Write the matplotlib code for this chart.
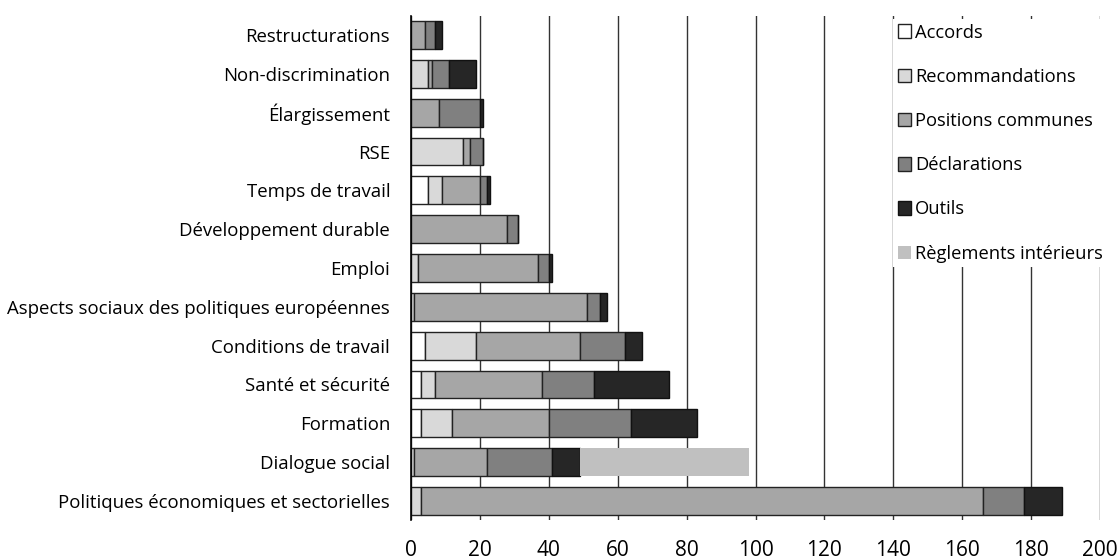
import matplotlib
matplotlib.use("Agg")
import matplotlib.pyplot as plt
import numpy as np

categories = ["Restructurations", "Non-discrimination", "Élargissement", "RSE",
              "Temps de travail", "Développement durable", "Emploi",
              "Aspects sociaux des politiques européennes", "Conditions de travail",
              "Santé et sécurité", "Formation", "Dialogue social",
              "Politiques économiques et sectorielles"]
accords =         [0, 0, 0, 0, 5, 0, 0, 0, 4, 3, 3, 0, 0]
recommandations = [0, 5, 0, 15, 4, 0, 2, 1, 15, 4, 9, 1, 3]
positions =       [4, 1, 8, 2, 11, 28, 35, 50, 30, 31, 28, 21, 163]
declarations =    [3, 5, 12, 4, 2, 3, 3, 4, 13, 15, 24, 19, 12]
outils =          [2, 8, 1, 0, 1, 0, 1, 2, 5, 22, 19, 8, 11]
reglements =      [0, 0, 0, 0, 0, 0, 0, 0, 0, 0, 0, 49, 0]

series = [("Accords", accords, "#ffffff", "#222222"),
          ("Recommandations", recommandations, "#d9d9d9", "#222222"),
          ("Positions communes", positions, "#a6a6a6", "#222222"),
          ("Déclarations", declarations, "#808080", "#222222"),
          ("Outils", outils, "#262626", "#111111"),
          ("Règlements intérieurs", reglements, "#c0c0c0", "none")]

plt.rcParams['font.family'] = ['Open Sans', 'DejaVu Sans']

fig = plt.figure(figsize=(11.2, 5.59), dpi=100)
ax = fig.add_axes([411/1120, 1 - 520.4/559, (1100 - 411)/1120, (520.4 - 15.6)/559])

y = np.arange(len(categories))
left = np.zeros(len(categories))
for name, vals, fc, ec in series:
    v = np.array(vals, dtype=float)
    ax.barh(y, v, left=left, height=0.72, color=fc, edgecolor=ec,
            linewidth=1.0 if ec != "none" else 0, label=name, zorder=3)
    left += v

ax.set_ylim(len(categories) - 0.5, -0.5)
ax.set_xlim(0, 200)
ax.set_xticks(np.arange(0, 201, 20))
ax.set_yticks(y)
ax.set_yticklabels(categories)
ax.tick_params(axis='y', length=0, pad=15, labelsize=13.4)
ax.tick_params(axis='x', length=0, pad=14, labelsize=15)
for s in ["top", "right", "bottom"]:
    ax.spines[s].set_visible(False)
ax.spines["left"].set_color("#000000")
ax.spines["left"].set_linewidth(1.2)
ax.spines["left"].set_zorder(5)
ax.xaxis.grid(True, color="#333333", linewidth=1.0, zorder=0)
ax.set_axisbelow(True)

leg = ax.legend(loc="upper left", bbox_to_anchor=(893/1120, 1 - 19/559),
                bbox_transform=fig.transFigure, frameon=True, fancybox=False,
                facecolor="white", edgecolor="none", framealpha=1,
                handlelength=0.75, handleheight=0.75, handletextpad=0.2,
                labelspacing=1.43, borderpad=0.25, borderaxespad=0,
                fontsize=13.2)
leg.set_zorder(10)

fig.savefig("out.png", dpi=100)
